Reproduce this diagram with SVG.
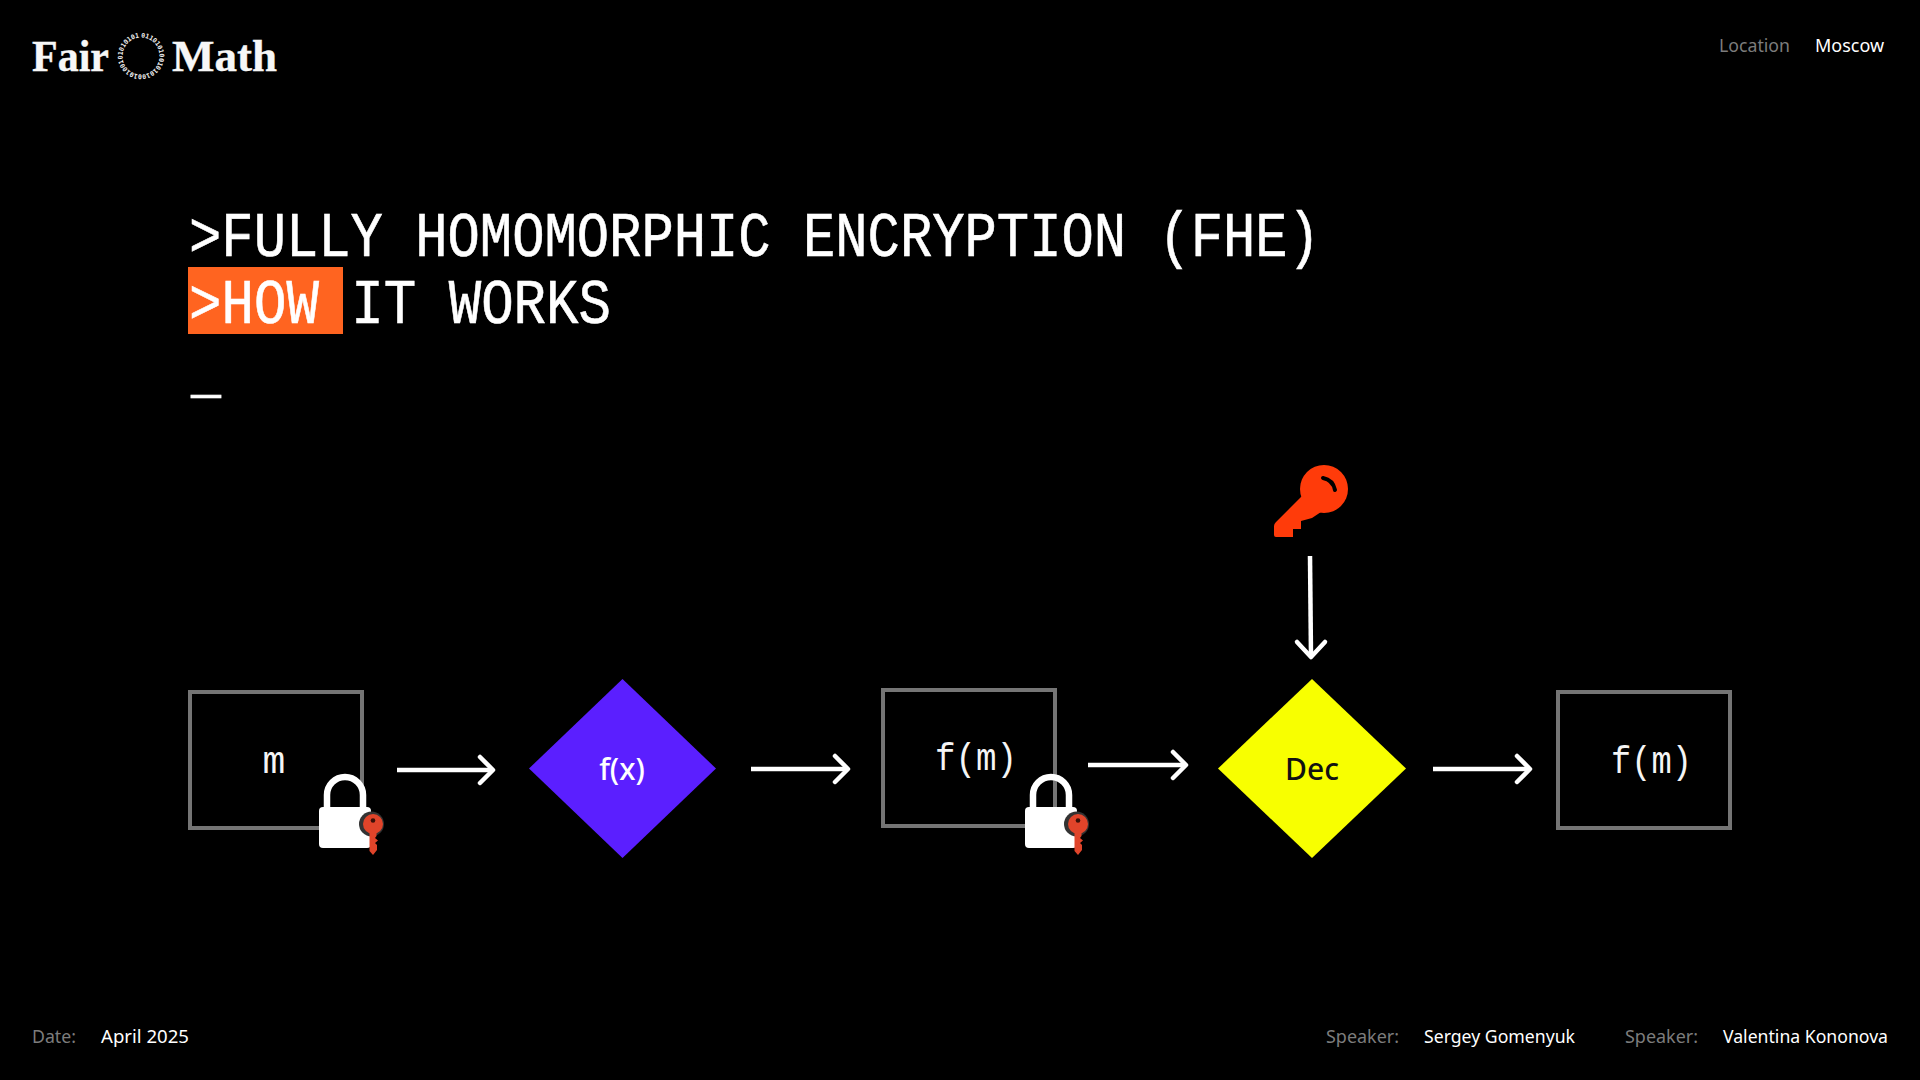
<svg xmlns="http://www.w3.org/2000/svg" width="1920" height="1080" viewBox="0 0 1920 1080">
<style>
.bg{fill:#000}
.logo{font-family:"Liberation Serif",serif;font-weight:700;font-size:45px;fill:#f7f7f7;stroke:#f7f7f7;stroke-width:.4}
.ring{font-family:"DejaVu Sans Mono",monospace;font-weight:700;font-size:6.5px;fill:#f2f2f2}
.meta{font-family:"Noto Sans",sans-serif;font-size:18px}
.dim{fill:#7c7c7c}
.lit{fill:#fff}
.title{font-family:"Liberation Mono",monospace;font-size:63px;fill:#fff;stroke:#fff;stroke-width:.6}
.box{fill:none;stroke:#757575;stroke-width:4}
.mono{font-family:"Liberation Mono",monospace;font-size:38px;fill:#f5f5f5}
.dl{font-family:"Noto Sans",sans-serif;font-size:30px;font-weight:500;text-anchor:middle}
.arrow{fill:none;stroke:#fff;stroke-width:4.5;stroke-linejoin:round}
.tip{stroke-linecap:round}
.lockb{fill:#fff}
.locks{fill:none;stroke:#fff;stroke-width:6.5}
.redk{fill:#e0442a}
</style>
<defs>
<g id="lock">
<path class="locks" d="M-18 40V21A18 18 0 0 1 18 21V40"/>
<rect class="lockb" x="-26" y="33" width="52" height="41" rx="4"/>
</g>
<g id="smallkey">
<circle cx="-1.500" cy="0" r="12.500" fill="#333"/>
<circle class="redk" cx="0" cy="0" r="10"/>
<path class="redk" d="M-3.500 6H3.500V12L2 14 5 16.500 2 19 4 21V26L0 31-3.500 27Z"/>
<circle cx="0" cy="-3.500" r="2.300" fill="#3a1008"/>
</g>
<path id="ringpath" d="M141 37.500A18.500 18.500 0 1 1 140.990 37.500"/>
</defs>
<rect class="bg" width="1920" height="1080"/>

<g id="logo">
<text class="logo" x="32" y="71" textLength="77" lengthAdjust="spacingAndGlyphs">Fair</text>
<text class="ring"><textPath href="#ringpath" textLength="114" lengthAdjust="spacing">011010100101010010100101010101</textPath></text>
<text class="logo" x="172" y="71" textLength="105" lengthAdjust="spacingAndGlyphs">Math</text>
</g>
<g id="header">
<text class="meta dim" x="1719" y="52" textLength="71" lengthAdjust="spacingAndGlyphs">Location</text>
<text class="meta lit" x="1815" y="52" textLength="69" lengthAdjust="spacingAndGlyphs">Moscow</text>
</g>
<g id="title">
<rect x="188" y="267" width="155" height="67" fill="#ff6420"/>
<text class="title" x="189" y="256" textLength="1131" lengthAdjust="spacingAndGlyphs">&gt;FULLY HOMOMORPHIC ENCRYPTION (FHE)</text>
<text class="title" x="189" y="323" textLength="422" lengthAdjust="spacingAndGlyphs">&gt;HOW IT WORKS</text>
<text class="title" x="191" y="391" textLength="30" lengthAdjust="spacingAndGlyphs" stroke-width="3">_</text>
</g>

<g id="connectors">
<path class="arrow" d="M397 770H493"/><path class="arrow tip" d="M480 757L493 770 480 783"/>
<path class="arrow" d="M751 769H848"/><path class="arrow tip" d="M835 756L848 769 835 782"/>
<path class="arrow" d="M1088 765H1186"/><path class="arrow tip" d="M1173 752L1186 765 1173 778"/>
<path class="arrow" d="M1433 769H1530"/><path class="arrow tip" d="M1517 756L1530 769 1517 782"/>
<path class="arrow" d="M1310 556L1311 657"/><path class="arrow tip" d="M1297 642L1311 657 1325 642"/>
</g>

<g id="node-m">
<rect class="box" x="190" y="692" width="172" height="136"/>
<text class="mono" x="274" y="773" text-anchor="middle">m</text>
</g>
<g id="lock-m">
<use href="#lock" x="345" y="774"/>
<use href="#smallkey" x="373" y="824"/>
</g>
<g id="node-fx">
<path fill="#5b1fff" d="M622.500 679L716 768.500 622.500 858 529 768.500Z"/>
<text class="dl" x="622" y="780" fill="#fff">f(x)</text>
</g>
<g id="node-fm1">
<rect class="box" x="883" y="690" width="172" height="136"/>
<text class="mono" x="935" y="770" textLength="82" lengthAdjust="spacingAndGlyphs">f(m)</text>
</g>
<g id="lock-fm">
<use href="#lock" x="1051" y="774"/>
<use href="#smallkey" x="1078" y="824"/>
</g>
<g id="node-dec">
<path fill="#f8ff00" d="M1312 679L1406 768.500 1312 858 1218 768.500Z"/>
<text class="dl" x="1312" y="780" fill="#111">Dec</text>
</g>
<g id="node-fm2">
<rect class="box" x="1558" y="692" width="172" height="136"/>
<text class="mono" x="1611" y="773" textLength="81" lengthAdjust="spacingAndGlyphs">f(m)</text>
</g>
<g id="key-top">
<circle cx="1324" cy="489" r="24" fill="#ff3b0a"/>
<path fill="#ff3b0a" d="M1276 522L1304 494 1324 510 1312 518 1301 521V529H1293V537H1276Q1274 537 1274 535V526Q1274 524 1276 522Z"/>
<path d="M1323 478Q1333 480 1335 490" fill="none" stroke="#000" stroke-width="4" stroke-linecap="round"/>
</g>

<g id="footer">
<text class="meta dim" x="32" y="1043" textLength="44" lengthAdjust="spacingAndGlyphs">Date:</text>
<text class="meta lit" x="101" y="1043" textLength="88" lengthAdjust="spacingAndGlyphs">April 2025</text>
<text class="meta dim" x="1326" y="1043" textLength="73" lengthAdjust="spacingAndGlyphs">Speaker:</text>
<text class="meta lit" x="1424" y="1043" textLength="151" lengthAdjust="spacingAndGlyphs">Sergey Gomenyuk</text>
<text class="meta dim" x="1625" y="1043" textLength="73" lengthAdjust="spacingAndGlyphs">Speaker:</text>
<text class="meta lit" x="1723" y="1043" textLength="165" lengthAdjust="spacingAndGlyphs">Valentina Kononova</text>
</g>
</svg>
